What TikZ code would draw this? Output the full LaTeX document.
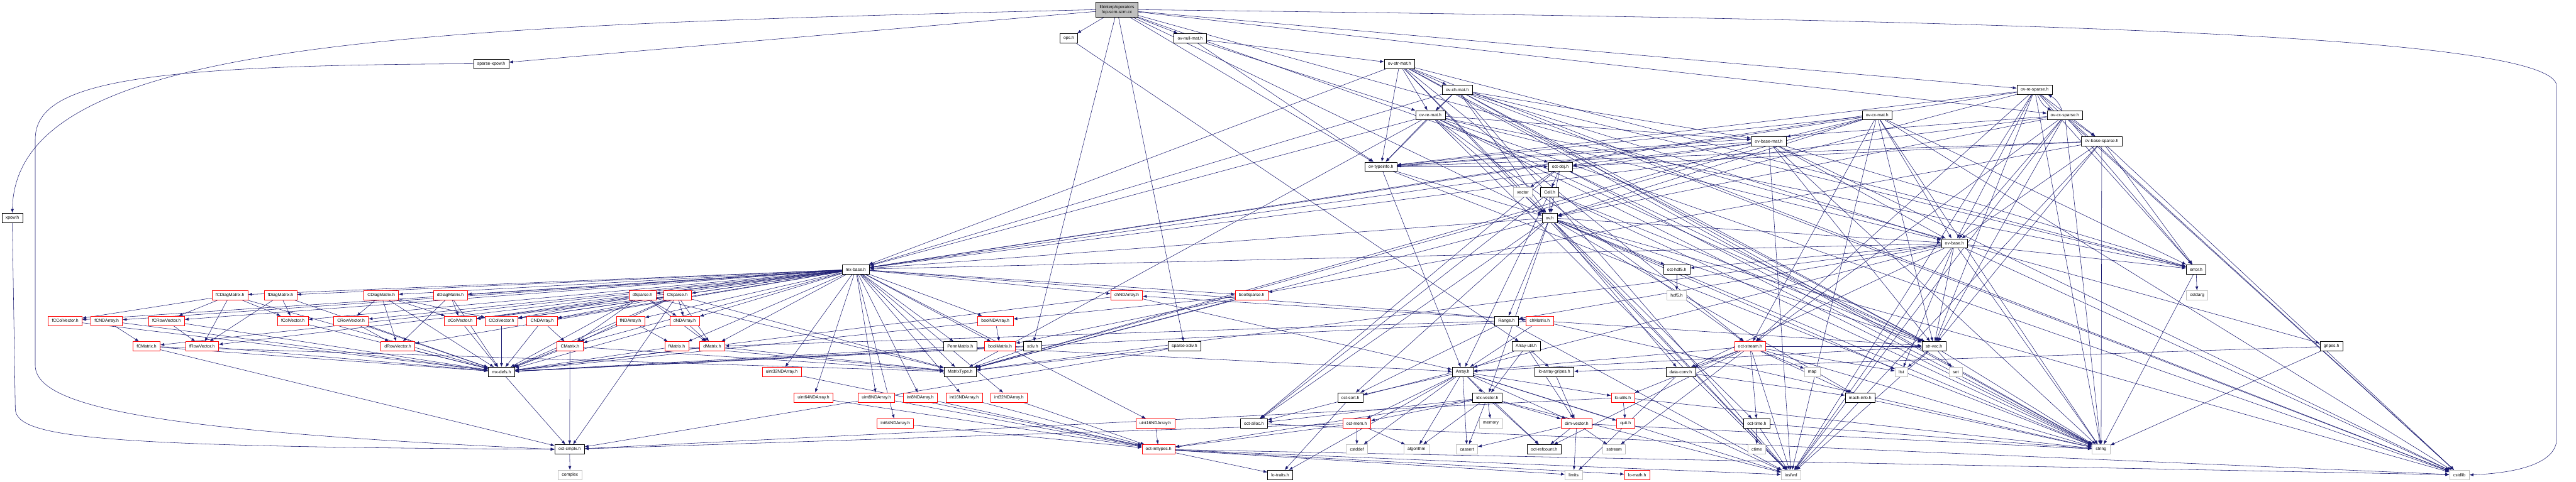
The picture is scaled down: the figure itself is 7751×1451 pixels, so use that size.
\documentclass[tikz,border=0pt]{standalone}
\usepackage{fontspec}
\setmainfont{Liberation Sans}
\usetikzlibrary{arrows.meta}
\definecolor{edgeblue}{HTML}{191970}
\definecolor{sysgray}{HTML}{BFBFBF}
\pgfdeclarelayer{back}
\pgfsetlayers{back,main}

\begin{document}
\begin{tikzpicture}[x=0.01cm, y=-0.01cm,
    hdr/.style={draw=black, fill=white, line width=0.35pt,
                font=\fontsize{3.7}{4.4}\selectfont,
                inner xsep=0.11cm, inner ysep=0pt, minimum height=0.28cm},
    trunc/.style={hdr, draw=red},
    sys/.style={hdr, draw=sysgray},
    mainfile/.style={hdr, fill=sysgray, align=center, minimum height=0.45cm},
    dep/.style={-{Latex[length=1.2mm, width=0.9mm]}, line width=0.3pt, edgeblue}
  ]
  \useasboundingbox (0,0) rectangle (7751,1451);

  % row 0 - 2
  \node[mainfile] (opscm) at (3361,29) {libinterp/operators\\/op-scm-scm.cc};
  \node[hdr] (ops)       at (3216,115) {ops.h};
  \node[hdr] (ovnullmat) at (3581,115) {ov-null-mat.h};
  \node[hdr] (sparsexpow) at (1478,192) {sparse-xpow.h};
  \node[hdr] (ovstrmat)  at (4211,192) {ov-str-mat.h};

  % row 3 - 9
  \node[hdr] (ovchmat)    at (4385,270) {ov-ch-mat.h};
  \node[hdr] (ovresparse) at (6122,270) {ov-re-sparse.h};
  \node[hdr] (ovremat)    at (4304,347) {ov-re-mat.h};
  \node[hdr] (ovcxmat)    at (5648,347) {ov-cx-mat.h};
  \node[hdr] (ovcxsparse) at (6213,347) {ov-cx-sparse.h};
  \node[hdr] (ovbasemat)  at (5322,425) {ov-base-mat.h};
  \node[hdr] (ovbasesparse) at (6324,425) {ov-base-sparse.h};
  \node[hdr] (ovtypeinfo) at (4155,502) {ov-typeinfo.h};
  \node[hdr] (octobj)     at (4695,502) {oct-obj.h};
  \node[sys] (vectorh)    at (4582,579) {vector};
  \node[hdr] (cellh)      at (4663,579) {Cell.h};
  \node[hdr] (xpow)       at (37,656) {xpow.h};
  \node[hdr] (ovh)        at (4663,656) {ov.h};
  \node[hdr] (ovbase)     at (5881,733) {ov-base.h};

  % row 10 - 11
  \node[hdr] (mxbase)  at (2575,811) {mx-base.h};
  \node[hdr] (octhdf)  at (5045,811) {oct-hdf5.h};
  \node[hdr] (errorh)  at (6608,811) {error.h};
  \node[trunc] (fCDiag) at (692,889) {fCDiagMatrix.h};
  \node[trunc] (fDiag)  at (844,889) {fDiagMatrix.h};
  \node[trunc] (CDiag)  at (1147,889) {CDiagMatrix.h};
  \node[trunc] (dDiag)  at (1355,889) {dDiagMatrix.h};
  \node[trunc] (dSparse) at (1933,889) {dSparse.h};
  \node[trunc] (CSparse) at (2038,889) {CSparse.h};
  \node[trunc] (chND)   at (3390,889) {chNDArray.h};
  \node[trunc] (boolSparse) at (3766,889) {boolSparse.h};
  \node[sys] (hdf)      at (5045,889) {hdf5.h};
  \node[sys] (cstdarg)  at (6611,889) {cstdarg};

  % row 12
  \node[trunc] (fCCol) at (196,966) {fCColVector.h};
  \node[trunc] (fCND)  at (321,966) {fCNDArray.h};
  \node[trunc] (fCRow) at (501,966) {fCRowVector.h};
  \node[trunc] (fCol)  at (881,966) {fColVector.h};
  \node[trunc] (CRow)  at (1056,966) {CRowVector.h};
  \node[trunc] (dCol)  at (1385,966) {dColVector.h};
  \node[trunc] (CCol)  at (1509,966) {CColVector.h};
  \node[trunc] (CND)   at (1631,966) {CNDArray.h};
  \node[trunc] (fND)   at (1897,966) {fNDArray.h};
  \node[trunc] (dND)   at (2060,966) {dNDArray.h};
  \node[trunc] (boolND) at (2995,966) {boolNDArray.h};
  \node[hdr]   (Range) at (4533,966) {Range.h};
  \node[trunc] (chMat) at (4633,966) {chMatrix.h};

  % row 13
  \node[trunc] (fCMat) at (441,1043) {fCMatrix.h};
  \node[trunc] (fRow)  at (608,1043) {fRowVector.h};
  \node[trunc] (dRow)  at (1197,1043) {dRowVector.h};
  \node[trunc] (CMat)  at (1715,1043) {CMatrix.h};
  \node[trunc] (fMat)  at (2036,1043) {fMatrix.h};
  \node[trunc] (dMat)  at (2143,1043) {dMatrix.h};
  \node[hdr]   (Perm)  at (2889,1043) {PermMatrix.h};
  \node[trunc] (boolMat) at (3009,1043) {boolMatrix.h};
  \node[hdr]   (xdiv)  at (3107,1043) {xdiv.h};
  \node[hdr]   (sparsexdiv) at (3564,1043) {sparse-xdiv.h};
  \node[hdr]   (arrayutil) at (4592,1043) {Array-util.h};
  \node[trunc] (octstream) at (5266,1043) {oct-stream.h};
  \node[hdr]   (strvec) at (5819,1043) {str-vec.h};
  \node[hdr]   (gripes) at (7015,1043) {gripes.h};

  % row 14
  \node[hdr]   (mxdefs)  at (1509,1120) {mx-defs.h};
  \node[trunc] (uint32)  at (2352,1120) {uint32NDArray.h};
  \node[hdr]   (mtype)   at (2889,1120) {MatrixType.h};
  \node[hdr]   (array)   at (4401,1120) {Array.h};
  \node[hdr]   (logripes) at (4677,1120) {lo-array-gripes.h};
  \node[hdr]   (dataconv) at (5057,1120) {data-conv.h};
  \node[sys]   (map)     at (5453,1120) {map};
  \node[sys]   (list)    at (5721,1120) {list};
  \node[sys]   (set)     at (5885,1120) {set};

  % row 15 - 16
  \node[trunc] (uint64) at (2448,1197) {uint64NDArray.h};
  \node[trunc] (uint8)  at (2637,1197) {uint8NDArray.h};
  \node[trunc] (int8)   at (2769,1197) {int8NDArray.h};
  \node[trunc] (int16)  at (2901,1197) {int16NDArray.h};
  \node[trunc] (int32)  at (3036,1197) {int32NDArray.h};
  \node[hdr]   (octsort) at (4063,1197) {oct-sort.h};
  \node[hdr]   (idxvec)  at (4475,1197) {idx-vector.h};
  \node[trunc] (loutils) at (4883,1197) {lo-utils.h};
  \node[hdr]   (machinfo) at (5597,1197) {mach-info.h};
  \node[trunc] (int64)  at (2694,1275) {int64NDArray.h};
  \node[trunc] (uint16) at (3476,1275) {uint16NDArray.h};
  \node[hdr]   (octalloc) at (3773,1275) {oct-alloc.h};
  \node[trunc] (octmem) at (4082,1275) {oct-mem.h};
  \node[sys]   (memory) at (4486,1275) {memory};
  \node[trunc] (dimvec) at (4744,1275) {dim-vector.h};
  \node[trunc] (quit)   at (4891,1275) {quit.h};
  \node[hdr]   (octtime) at (5286,1275) {oct-time.h};

  % row 17 - 18
  \node[hdr]   (cmplx)    at (1714,1353) {oct-cmplx.h};
  \node[trunc] (inttypes) at (3486,1353) {oct-inttypes.h};
  \node[sys]   (cstddef)  at (4083,1353) {cstddef};
  \node[sys]   (algorithm) at (4262,1353) {algorithm};
  \node[sys]   (cassert)  at (4414,1353) {cassert};
  \node[hdr]   (refcount) at (4646,1353) {oct-refcount.h};
  \node[sys]   (sstream)  at (4857,1353) {sstream};
  \node[sys]   (ctime)    at (5286,1353) {ctime};
  \node[sys]   (string)   at (6322,1353) {string};
  \node[sys]   (complex)  at (1715,1430) {complex};
  \node[hdr]   (lotraits) at (3852,1430) {lo-traits.h};
  \node[sys]   (limits)   at (4735,1430) {limits};
  \node[trunc] (lomath)   at (4926,1430) {lo-math.h};
  \node[sys]   (iosfwd)   at (5389,1430) {iosfwd};
  \node[sys]   (cstdlib)  at (7400,1430) {cstdlib};

  \begin{pgfonlayer}{back}
    \fill[white] (0,0) rectangle (7751,1451);
    % libinterp
    \foreach \dst in {ops,ovnullmat,xdiv,sparsexdiv,octobj,ovh,ovtypeinfo,ovresparse,ovcxsparse,gripes}
      \draw[dep] (opscm) -- (\dst);
    \draw[dep] (opscm) -- (sparsexpow);
    \draw[dep] (opscm.west) .. controls (1200,80) and (46,120) .. (xpow.north);
    \draw[dep] (opscm.east) .. controls (6000,60) and (7693,100) .. (7693,260)
      -- (7693,1320) .. controls (7693,1400) and (7560,1425) .. (cstdlib.east);
    \draw[dep] (ops) -- (arrayutil);
    \foreach \dst in {ovstrmat,ovremat,ovtypeinfo}
      \draw[dep] (ovnullmat) -- (\dst);
    \draw[dep] (sparsexpow.west) .. controls (400,196) and (106,250) .. (106,420)
      -- (106,1100) .. controls (106,1230) and (500,1300) .. (cmplx.west);
    \draw[dep] (xpow.south) -- (46,1230) .. controls (46,1320) and (300,1345) .. (cmplx.west);
    \foreach \dst in {ovchmat,ovremat,ovtypeinfo,ovh,mxbase,strvec,errorh,octstream,cstdlib,iosfwd,string}
      \draw[dep] (ovstrmat) -- (\dst);
    \foreach \dst in {ovremat,ovtypeinfo,ovh,ovbase,ovbasemat,mxbase,strvec,errorh,cstdlib,iosfwd,string}
      \draw[dep] (ovchmat) -- (\dst);
    \foreach \dst in {ovbasemat,ovtypeinfo,ovh,ovbase,mxbase,strvec,errorh,octstream,mtype,cstdlib,iosfwd,string}
      \draw[dep] (ovremat) -- (\dst);
    \foreach \dst in {ovbasemat,ovtypeinfo,ovh,ovbase,mxbase,strvec,errorh,octstream,mtype,cstdlib,iosfwd,string}
      \draw[dep] (ovcxmat) -- (\dst);
    \foreach \dst in {ovbasesparse,ovh,ovbase,ovtypeinfo,mxbase,strvec,errorh,octstream,cstdlib,iosfwd,string}
      \draw[dep] (ovresparse) -- (\dst);
    \foreach \dst in {ovbasesparse,ovh,ovbase,ovtypeinfo,mxbase,strvec,errorh,octstream,cstdlib,iosfwd,string}
      \draw[dep] (ovcxsparse) -- (\dst);
    \draw[dep] (ovresparse) to[bend right=20] (ovcxsparse);
    \draw[dep] (ovcxsparse) to[bend right=20] (ovresparse);
    \foreach \dst in {mxbase,mtype,strvec,errorh,octobj,ovbase,ovtypeinfo,cstdlib,iosfwd,string}
      \draw[dep] (ovbasemat) -- (\dst);
    \foreach \dst in {ovbase,ovtypeinfo,octobj,errorh,strvec,boolSparse,cstdlib,iosfwd,string}
      \draw[dep] (ovbasesparse) -- (\dst);
    \foreach \dst in {octobj,ovh,array,string}
      \draw[dep] (ovtypeinfo) -- (\dst);
    \foreach \dst in {vectorh,cellh,ovh,octalloc,strvec,string}
      \draw[dep] (octobj) -- (\dst);
    \foreach \dst in {ovh,array,octalloc,strvec,string}
      \draw[dep] (cellh) -- (\dst);
    \foreach \dst in {ovbase,Range,dataconv,idxvec,machinfo,mxbase,octalloc,octtime,strvec,octhdf,octsort,string,list,iosfwd,cstdlib,mtype}
      \draw[dep] (ovh) -- (\dst);
    \foreach \dst in {Range,dataconv,mxbase,strvec,errorh,octhdf,octalloc,mtype,list,string,iosfwd,cstdlib}
      \draw[dep] (ovbase) -- (\dst);
    \foreach \dst in {cstdarg,string}
      \draw[dep] (errorh) -- (\dst);
    \draw[dep] (octhdf) -- (hdf);
    \foreach \dst in {logripes,string}
      \draw[dep] (gripes) -- (\dst);
    % liboctave
    \foreach \dst in {mtype,boolMat,chMat,dMat,CMat,fMat,fCMat,dCol,CCol,fCol,fCCol,dRow,CRow,fRow,fCRow,dDiag,CDiag,fDiag,fCDiag,Perm,boolND,chND,dND,CND,fND,fCND,int8,int16,int32,int64,uint8,uint16,uint32,uint64,boolSparse,dSparse,CSparse}
      \draw[dep] (mxbase) -- (\dst);
    \foreach \dst in {fCCol,fCRow,fRow,fCol,mxdefs}
      \draw[dep] (fCDiag) -- (\dst);
    \foreach \dst in {fRow,fCol,mxdefs}
      \draw[dep] (fDiag) -- (\dst);
    \foreach \dst in {CRow,dRow,CCol,dCol,mxdefs}
      \draw[dep] (CDiag) -- (\dst);
    \foreach \dst in {dCol,dRow,mxdefs}
      \draw[dep] (dDiag) -- (\dst);
    \foreach \dst in {dCol,CCol,dND,dMat,CMat,mtype,mxdefs}
      \draw[dep] (dSparse) -- (\dst);
    \foreach \dst in {dCol,CCol,CND,dND,CMat,dMat,mtype,mxdefs,cmplx}
      \draw[dep] (CSparse) -- (\dst);
    \foreach \src in {fCCol,fCol,fRow,dRow,dCol,CCol,boolMat}
      \draw[dep] (\src) -- (mxdefs);
    \foreach \dst in {fCMat,mxdefs}
      \draw[dep] (fCND) -- (\dst);
    \foreach \dst in {fRow,mxdefs}
      \draw[dep] (fCRow) -- (\dst);
    \foreach \dst in {dRow,mxdefs}
      \draw[dep] (CRow) -- (\dst);
    \foreach \dst in {CMat,mxdefs}
      \draw[dep] (CND) -- (\dst);
    \foreach \dst in {fMat,mxdefs}
      \draw[dep] (fND) -- (\dst);
    \foreach \dst in {dMat,mxdefs}
      \draw[dep] (dND) -- (\dst);
    \foreach \src in {fCMat,CMat}
      \foreach \dst in {mxdefs,cmplx,mtype}
        \draw[dep] (\src) -- (\dst);
    \foreach \src in {fMat,dMat}
      \foreach \dst in {mxdefs,mtype}
        \draw[dep] (\src) -- (\dst);
    \foreach \dst in {boolMat,mxdefs}
      \draw[dep] (boolND) -- (\dst);
    \foreach \dst in {mxdefs,array}
      \draw[dep] (chND) -- (\dst);
    \foreach \dst in {array,chND,mxdefs,strvec,string}
      \draw[dep] (chMat) -- (\dst);
    \foreach \dst in {boolMat,boolND,mtype}
      \draw[dep] (boolSparse) -- (\dst);
    \foreach \dst in {array,mxdefs}
      \draw[dep] (Perm) -- (\dst);
    \foreach \dst in {mtype,mxdefs}
      \draw[dep] (xdiv) -- (\dst);
    \foreach \dst in {mtype,cmplx}
      \draw[dep] (sparsexdiv) -- (\dst);
    \foreach \src in {uint8,uint16,uint32,uint64,int8,int16,int32,int64}
      \draw[dep] (\src) -- (inttypes);
    \foreach \dst in {octsort,dMat,iosfwd}
      \draw[dep] (Range) -- (\dst);
    \foreach \dst in {array,dimvec,idxvec,logripes}
      \draw[dep] (arrayutil) -- (\dst);
    \foreach \dst in {cassert,cstddef,algorithm,iosfwd,dimvec,idxvec,lotraits,loutils,octsort,quit,octmem,refcount}
      \draw[dep] (array) -- (\dst);
    \draw[dep] (logripes) -- (dimvec);
    \foreach \dst in {limits,machinfo}
      \draw[dep] (dataconv) -- (\dst);
    \draw[dep] (octsort) -- (lotraits);
    \foreach \dst in {cassert,algorithm,iosfwd,memory,dimvec,inttypes,octalloc,octmem,refcount}
      \draw[dep] (idxvec) -- (\dst);
    \foreach \dst in {quit,iosfwd,string,cmplx}
      \draw[dep] (loutils) -- (\dst);
    \foreach \dst in {cstddef,algorithm,cmplx,inttypes}
      \draw[dep] (octmem) -- (\dst);
    \foreach \dst in {cassert,limits,sstream,string,refcount}
      \draw[dep] (dimvec) -- (\dst);
    \foreach \dst in {lotraits,limits,lomath,iosfwd,cstdlib}
      \draw[dep] (inttypes) -- (\dst);
    \draw[dep] (cmplx) -- (complex);
    \draw[dep] (octalloc) -- (cstdlib);
    \draw[dep] (mxdefs) -- (cmplx);
    \foreach \dst in {map,list,string,iosfwd,sstream,array,dataconv,loutils,machinfo,refcount,octtime,strvec}
      \draw[dep] (octstream) -- (\dst);
    \foreach \dst in {list,set,string,iosfwd,array}
      \draw[dep] (strvec) -- (\dst);
    \draw[dep] (machinfo) -- (string);
    \foreach \dst in {ctime,string,iosfwd}
      \draw[dep] (octtime) -- (\dst);
  \end{pgfonlayer}
\end{tikzpicture}
\end{document}
